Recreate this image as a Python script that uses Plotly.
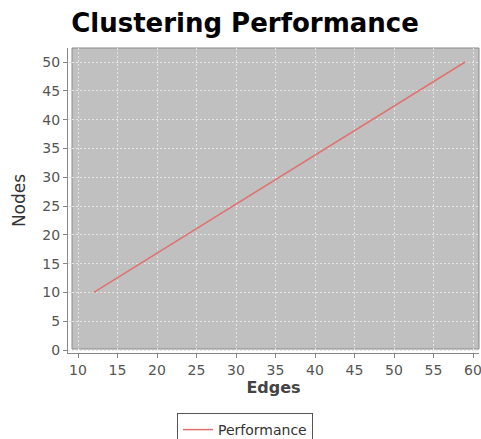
import plotly.graph_objects as go

edges = [12, 59]
nodes = [10, 50]
x_ticks = [10, 15, 20, 25, 30, 35, 40, 45, 50, 55, 60]
y_ticks = [0, 5, 10, 15, 20, 25, 30, 35, 40, 45, 50]

W, H = 481, 439
ml, mr, mt, mb = 68, 2, 48, 86
pw = W - ml - mr
ph = H - mt - mb

fig = go.Figure()
fig.add_trace(go.Scatter(x=edges, y=nodes, mode="lines", name="Performance",
                         line=dict(color="#e07272", width=1.5)))

fig.add_shape(type="rect", xref="paper", yref="paper", layer="below",
              x0=4 / pw, x1=1, y0=4 / ph, y1=1,
              fillcolor="#c0c0c0", line=dict(color="#8a8a8a", width=1))

axis_font = dict(family="DejaVu Sans", size=14, color="#555555")
fig.update_layout(
    width=W, height=H,
    margin=dict(l=ml, r=mr, t=mt, b=mb, autoexpand=False),
    paper_bgcolor="white", plot_bgcolor="rgba(0,0,0,0)",
    title=dict(text="<b>Clustering Performance</b>", x=245 / W, xanchor="center",
               y=1 - 23 / H, yanchor="middle", automargin=False,
               font=dict(family="DejaVu Sans", size=26, color="black")),
    showlegend=True,
    legend=dict(orientation="h", xref="container", yref="container",
                x=245 / W, xanchor="center", y=1 - 413 / H,
                yanchor="top", bordercolor="#555555", borderwidth=1,
                font=dict(family="DejaVu Sans", size=14, color="#333333"),
                itemwidth=30, tracegroupgap=0),
    xaxis=dict(range=[8.73, 60.76], tickvals=x_ticks, showgrid=True,
               gridcolor="#e4e4e4", griddash="2px,2px", gridwidth=1,
               showline=True, linecolor="#888888", linewidth=1,
               ticks="outside", ticklen=4, tickcolor="#888888",
               tickfont=axis_font, zeroline=False, automargin=False,
               ticklabeloverflow="allow",
               title=dict(text="<b>Edges</b>", standoff=0,
                          font=dict(family="DejaVu Sans", size=16, color="#444444"))),
    yaxis=dict(range=[-0.52, 52.43], tickvals=y_ticks, showgrid=True,
               gridcolor="#e4e4e4", griddash="2px,2px", gridwidth=1,
               showline=True, linecolor="#888888", linewidth=1,
               ticks="outside", ticklen=4, tickcolor="#888888",
               tickfont=axis_font, zeroline=False, automargin=False,
               title=dict(text="Nodes", standoff=12,
                          font=dict(family="DejaVu Sans", size=17, color="#333333"))),
)

fig.write_html("out.html", config={"displayModeBar": False},
               post_script="document.body.style.margin='0';document.body.style.overflow='hidden';")
